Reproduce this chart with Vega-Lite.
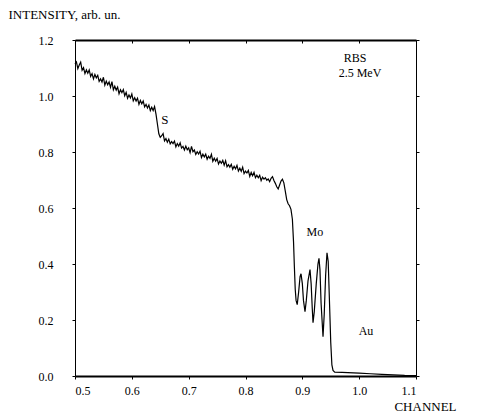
{
  "$schema": "https://vega.github.io/schema/vega-lite/v6.json",
  "width": 341,
  "height": 336,
  "autosize": "none",
  "padding": {"left": 75, "top": 40, "right": 66, "bottom": 40},
  "background": "white",
  "config": {
    "view": {"stroke": null},
    "font": "Liberation Serif, Times New Roman, serif",
    "axis": {
      "domainColor": "black",
      "tickColor": "black",
      "labelColor": "black",
      "titleColor": "black",
      "grid": false,
      "labelFont": "Liberation Serif, Times New Roman, serif",
      "titleFont": "Liberation Serif, Times New Roman, serif",
      "labelFontSize": 12,
      "titleFontSize": 13,
      "titleFontWeight": "normal",
      "tickSize": 3
    },
    "text": {"font": "Liberation Serif, Times New Roman, serif", "color": "black"}
  },
  "datasets": {
    "spectrum": [
      {"channel": 0.5, "intensity": 1.115},
      {"channel": 0.5025, "intensity": 1.122},
      {"channel": 0.505, "intensity": 1.098},
      {"channel": 0.5075, "intensity": 1.111},
      {"channel": 0.51, "intensity": 1.121},
      {"channel": 0.5125, "intensity": 1.092},
      {"channel": 0.515, "intensity": 1.101},
      {"channel": 0.5175, "intensity": 1.08},
      {"channel": 0.52, "intensity": 1.093},
      {"channel": 0.5225, "intensity": 1.081},
      {"channel": 0.525, "intensity": 1.093},
      {"channel": 0.5275, "intensity": 1.07},
      {"channel": 0.53, "intensity": 1.08},
      {"channel": 0.5325, "intensity": 1.061},
      {"channel": 0.535, "intensity": 1.077},
      {"channel": 0.5375, "intensity": 1.065},
      {"channel": 0.54, "intensity": 1.074},
      {"channel": 0.5425, "intensity": 1.052},
      {"channel": 0.545, "intensity": 1.061},
      {"channel": 0.5475, "intensity": 1.05},
      {"channel": 0.55, "intensity": 1.067},
      {"channel": 0.5525, "intensity": 1.039},
      {"channel": 0.555, "intensity": 1.053},
      {"channel": 0.5575, "intensity": 1.04},
      {"channel": 0.56, "intensity": 1.05},
      {"channel": 0.5625, "intensity": 1.031},
      {"channel": 0.565, "intensity": 1.051},
      {"channel": 0.5675, "intensity": 1.022},
      {"channel": 0.57, "intensity": 1.035},
      {"channel": 0.5725, "intensity": 1.021},
      {"channel": 0.575, "intensity": 1.032},
      {"channel": 0.5775, "intensity": 1.008},
      {"channel": 0.58, "intensity": 1.022},
      {"channel": 0.5825, "intensity": 1.012},
      {"channel": 0.585, "intensity": 1.023},
      {"channel": 0.5875, "intensity": 1.001},
      {"channel": 0.59, "intensity": 1.013},
      {"channel": 0.5925, "intensity": 0.992},
      {"channel": 0.595, "intensity": 1.004},
      {"channel": 0.5975, "intensity": 0.993},
      {"channel": 0.6, "intensity": 1.007},
      {"channel": 0.6025, "intensity": 0.983},
      {"channel": 0.605, "intensity": 0.994},
      {"channel": 0.6075, "intensity": 0.982},
      {"channel": 0.61, "intensity": 0.992},
      {"channel": 0.6125, "intensity": 0.97},
      {"channel": 0.615, "intensity": 0.984},
      {"channel": 0.6175, "intensity": 0.972},
      {"channel": 0.62, "intensity": 0.982},
      {"channel": 0.6225, "intensity": 0.961},
      {"channel": 0.625, "intensity": 0.97},
      {"channel": 0.6275, "intensity": 0.957},
      {"channel": 0.63, "intensity": 0.968},
      {"channel": 0.6325, "intensity": 0.948},
      {"channel": 0.635, "intensity": 0.96},
      {"channel": 0.6375, "intensity": 0.948},
      {"channel": 0.64, "intensity": 0.962},
      {"channel": 0.6425, "intensity": 0.935},
      {"channel": 0.645, "intensity": 0.9},
      {"channel": 0.6475, "intensity": 0.865},
      {"channel": 0.65, "intensity": 0.852},
      {"channel": 0.6525, "intensity": 0.858},
      {"channel": 0.655, "intensity": 0.866},
      {"channel": 0.6575, "intensity": 0.84},
      {"channel": 0.66, "intensity": 0.848},
      {"channel": 0.6625, "intensity": 0.835},
      {"channel": 0.665, "intensity": 0.846},
      {"channel": 0.6675, "intensity": 0.829},
      {"channel": 0.67, "intensity": 0.837},
      {"channel": 0.6725, "intensity": 0.83},
      {"channel": 0.675, "intensity": 0.839},
      {"channel": 0.6775, "intensity": 0.818},
      {"channel": 0.68, "intensity": 0.83},
      {"channel": 0.6825, "intensity": 0.821},
      {"channel": 0.685, "intensity": 0.833},
      {"channel": 0.6875, "intensity": 0.814},
      {"channel": 0.69, "intensity": 0.82},
      {"channel": 0.6925, "intensity": 0.807},
      {"channel": 0.695, "intensity": 0.821},
      {"channel": 0.6975, "intensity": 0.808},
      {"channel": 0.7, "intensity": 0.815},
      {"channel": 0.7025, "intensity": 0.798},
      {"channel": 0.705, "intensity": 0.82},
      {"channel": 0.7075, "intensity": 0.801},
      {"channel": 0.71, "intensity": 0.807},
      {"channel": 0.7125, "intensity": 0.791},
      {"channel": 0.715, "intensity": 0.801},
      {"channel": 0.7175, "intensity": 0.793},
      {"channel": 0.72, "intensity": 0.803},
      {"channel": 0.7225, "intensity": 0.78},
      {"channel": 0.725, "intensity": 0.792},
      {"channel": 0.7275, "intensity": 0.782},
      {"channel": 0.73, "intensity": 0.792},
      {"channel": 0.7325, "intensity": 0.774},
      {"channel": 0.735, "intensity": 0.785},
      {"channel": 0.7375, "intensity": 0.777},
      {"channel": 0.74, "intensity": 0.792},
      {"channel": 0.7425, "intensity": 0.767},
      {"channel": 0.745, "intensity": 0.778},
      {"channel": 0.7475, "intensity": 0.767},
      {"channel": 0.75, "intensity": 0.777},
      {"channel": 0.7525, "intensity": 0.757},
      {"channel": 0.755, "intensity": 0.768},
      {"channel": 0.7575, "intensity": 0.76},
      {"channel": 0.76, "intensity": 0.77},
      {"channel": 0.7625, "intensity": 0.753},
      {"channel": 0.765, "intensity": 0.769},
      {"channel": 0.7675, "intensity": 0.747},
      {"channel": 0.77, "intensity": 0.755},
      {"channel": 0.7725, "intensity": 0.746},
      {"channel": 0.775, "intensity": 0.756},
      {"channel": 0.7775, "intensity": 0.738},
      {"channel": 0.78, "intensity": 0.749},
      {"channel": 0.7825, "intensity": 0.74},
      {"channel": 0.785, "intensity": 0.752},
      {"channel": 0.7875, "intensity": 0.732},
      {"channel": 0.79, "intensity": 0.742},
      {"channel": 0.7925, "intensity": 0.731},
      {"channel": 0.795, "intensity": 0.746},
      {"channel": 0.7975, "intensity": 0.723},
      {"channel": 0.8, "intensity": 0.732},
      {"channel": 0.8025, "intensity": 0.725},
      {"channel": 0.805, "intensity": 0.734},
      {"channel": 0.8075, "intensity": 0.713},
      {"channel": 0.81, "intensity": 0.727},
      {"channel": 0.8125, "intensity": 0.715},
      {"channel": 0.815, "intensity": 0.727},
      {"channel": 0.8175, "intensity": 0.708},
      {"channel": 0.82, "intensity": 0.717},
      {"channel": 0.8225, "intensity": 0.708},
      {"channel": 0.825, "intensity": 0.717},
      {"channel": 0.8275, "intensity": 0.698},
      {"channel": 0.83, "intensity": 0.71},
      {"channel": 0.8325, "intensity": 0.703},
      {"channel": 0.835, "intensity": 0.708},
      {"channel": 0.8375, "intensity": 0.699},
      {"channel": 0.84, "intensity": 0.704},
      {"channel": 0.8425, "intensity": 0.694},
      {"channel": 0.845, "intensity": 0.706},
      {"channel": 0.8475, "intensity": 0.712},
      {"channel": 0.85, "intensity": 0.698},
      {"channel": 0.8525, "intensity": 0.688},
      {"channel": 0.855, "intensity": 0.676},
      {"channel": 0.8575, "intensity": 0.668},
      {"channel": 0.86, "intensity": 0.682},
      {"channel": 0.8625, "intensity": 0.696},
      {"channel": 0.865, "intensity": 0.703},
      {"channel": 0.8675, "intensity": 0.69},
      {"channel": 0.87, "intensity": 0.66},
      {"channel": 0.8725, "intensity": 0.63},
      {"channel": 0.875, "intensity": 0.615},
      {"channel": 0.8775, "intensity": 0.608},
      {"channel": 0.88, "intensity": 0.595},
      {"channel": 0.8825, "intensity": 0.56},
      {"channel": 0.8845, "intensity": 0.48},
      {"channel": 0.886, "intensity": 0.39},
      {"channel": 0.8875, "intensity": 0.31},
      {"channel": 0.889, "intensity": 0.27},
      {"channel": 0.891, "intensity": 0.255},
      {"channel": 0.8935, "intensity": 0.3},
      {"channel": 0.896, "intensity": 0.355},
      {"channel": 0.8977, "intensity": 0.365},
      {"channel": 0.9, "intensity": 0.33},
      {"channel": 0.902, "intensity": 0.27},
      {"channel": 0.9047, "intensity": 0.23},
      {"channel": 0.907, "intensity": 0.27},
      {"channel": 0.91, "intensity": 0.34},
      {"channel": 0.9135, "intensity": 0.38},
      {"channel": 0.9155, "intensity": 0.33},
      {"channel": 0.9175, "intensity": 0.24},
      {"channel": 0.9188, "intensity": 0.19},
      {"channel": 0.921, "intensity": 0.23},
      {"channel": 0.9245, "intensity": 0.33},
      {"channel": 0.9275, "intensity": 0.4},
      {"channel": 0.9293, "intensity": 0.42},
      {"channel": 0.931, "intensity": 0.38},
      {"channel": 0.933, "intensity": 0.26},
      {"channel": 0.9364, "intensity": 0.14},
      {"channel": 0.9385, "intensity": 0.22},
      {"channel": 0.941, "intensity": 0.36},
      {"channel": 0.9434, "intensity": 0.44},
      {"channel": 0.9455, "intensity": 0.41},
      {"channel": 0.948, "intensity": 0.25},
      {"channel": 0.95, "intensity": 0.12},
      {"channel": 0.952, "intensity": 0.04},
      {"channel": 0.954, "intensity": 0.02},
      {"channel": 0.957, "intensity": 0.014},
      {"channel": 0.97, "intensity": 0.013},
      {"channel": 0.98, "intensity": 0.012},
      {"channel": 0.99, "intensity": 0.011},
      {"channel": 1.0, "intensity": 0.01},
      {"channel": 1.02, "intensity": 0.008},
      {"channel": 1.04, "intensity": 0.006},
      {"channel": 1.06, "intensity": 0.004},
      {"channel": 1.08, "intensity": 0.002},
      {"channel": 1.1, "intensity": 0.001}
    ],
    "labels": [
      {"channel": 0.993, "intensity": 1.136, "label": "RBS", "size": 12},
      {"channel": 1.0015, "intensity": 1.082, "label": "2.5 MeV", "size": 12},
      {"channel": 0.658, "intensity": 0.914, "label": "S", "size": 13},
      {"channel": 0.922, "intensity": 0.514, "label": "Mo", "size": 12},
      {"channel": 1.012, "intensity": 0.16, "label": "Au", "size": 12}
    ]
  },
  "layer": [
    {
      "data": {"name": "spectrum"},
      "mark": {"type": "line", "color": "black", "strokeWidth": 1.2},
      "encoding": {
        "x": {
          "field": "channel",
          "type": "quantitative",
          "scale": {"domain": [0.5, 1.1], "nice": false, "zero": false},
          "axis": {
            "orient": "bottom",
            "values": [0.5, 0.6, 0.7, 0.8, 0.9, 1.0, 1.1],
            "format": ".1f",
            "domainWidth": 2,
            "labelPadding": 6,
            "labelDx": -4,
            "title": "CHANNEL",
            "titleX": 350,
            "titleY": 30,
            "titleAlign": "center",
            "titleBaseline": "middle"
          }
        },
        "y": {
          "field": "intensity",
          "type": "quantitative",
          "scale": {"domain": [0, 1.2], "nice": false, "zero": true},
          "axis": {
            "orient": "left",
            "values": [0, 0.2, 0.4, 0.6, 0.8, 1.0, 1.2],
            "format": ".1f",
            "domainWidth": 1,
            "labelPadding": 19,
            "title": "INTENSITY, arb. un.",
            "titleAngle": 0,
            "titleAlign": "left",
            "titleBaseline": "middle",
            "titleX": -67,
            "titleY": -26
          }
        }
      }
    },
    {
      "data": {"name": "labels"},
      "mark": {"type": "text", "align": "center", "baseline": "middle"},
      "encoding": {
        "x": {
          "field": "channel",
          "type": "quantitative",
          "scale": {"domain": [0.5, 1.1], "nice": false, "zero": false},
          "axis": {
            "orient": "top",
            "values": [0.5, 0.6, 0.7, 0.8, 0.9, 1.0, 1.1],
            "labels": false,
            "domainWidth": 2,
            "tickSize": -3,
            "title": null
          }
        },
        "y": {
          "field": "intensity",
          "type": "quantitative",
          "scale": {"domain": [0, 1.2], "nice": false, "zero": true},
          "axis": {
            "orient": "right",
            "values": [0, 0.2, 0.4, 0.6, 0.8, 1.0, 1.2],
            "labels": false,
            "domainWidth": 1,
            "tickSize": 3,
            "title": null
          }
        },
        "text": {"field": "label", "type": "nominal"},
        "size": {"field": "size", "type": "quantitative", "scale": null, "legend": null}
      }
    }
  ],
  "resolve": {"axis": {"x": "independent", "y": "independent"}}
}
